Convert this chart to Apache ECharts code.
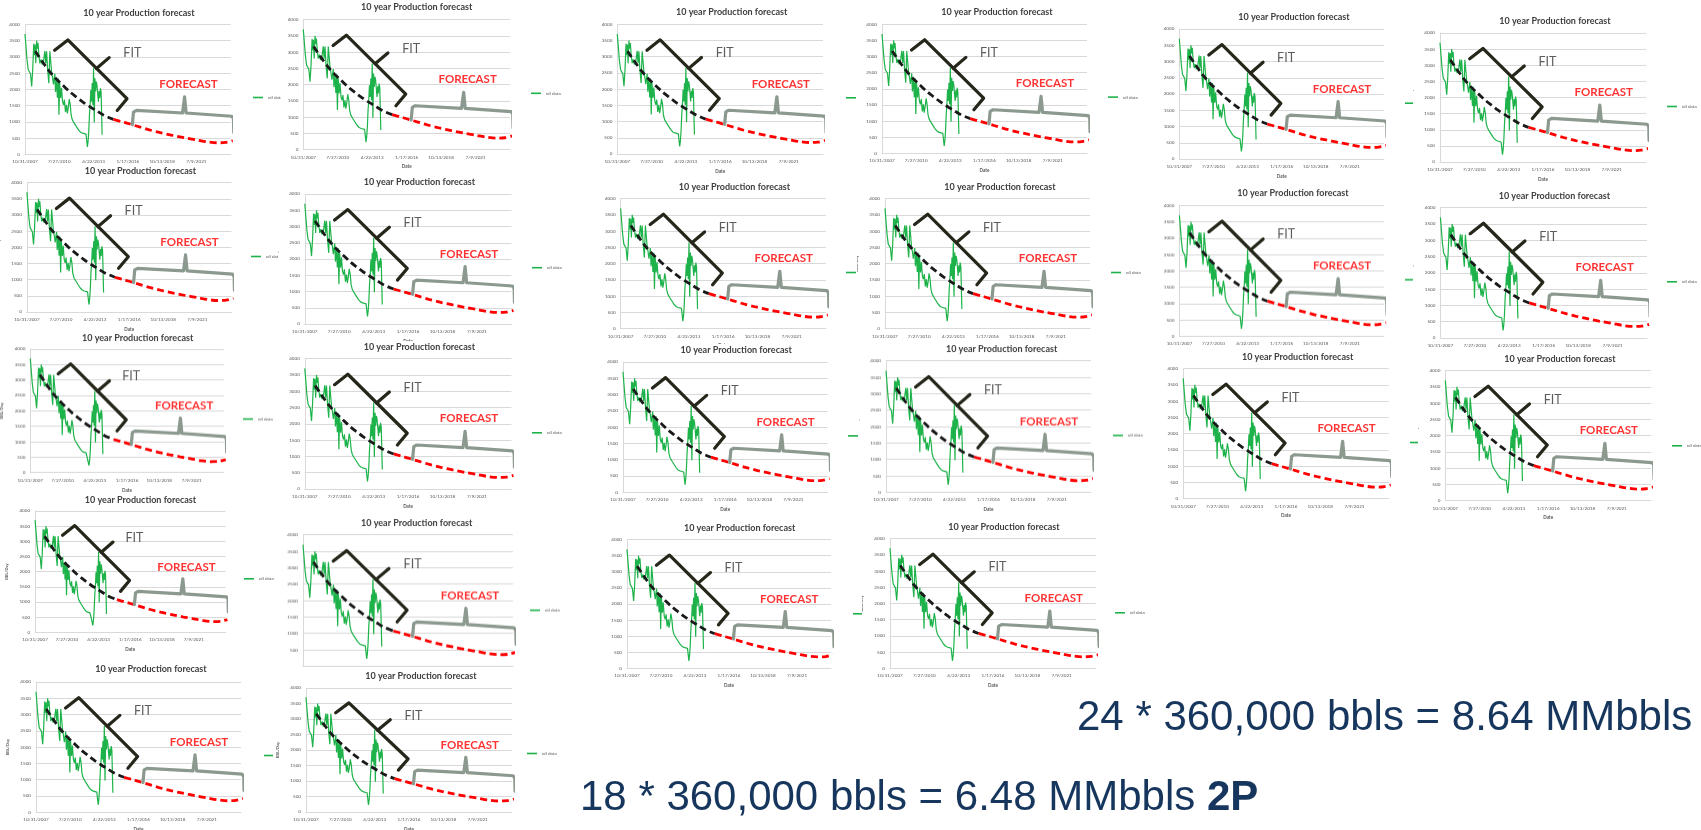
<!DOCTYPE html>
<html>
<head>
<meta charset="utf-8">
<script src="https://cdn.jsdelivr.net/npm/echarts@6/dist/echarts.min.js"></script>
<style>
html,body{margin:0;padding:0;background:#fff;}
#page{position:relative;width:1701px;height:830px;overflow:hidden;background:#fff;}
.box{position:absolute;background:#fff;overflow:hidden;}
</style>
</head>
<body>
<div id="page"></div>
<script>
// ---------------- data ----------------
const chartTitle = '10 year Production forecast';
const seriesName = 'oil data';
const xAxisName = 'Date';
const yAxisName = 'BBL/Day';
// x axis: days since 10/31/2007, one tick every 1000 days
const tickLabels = ['10/31/2007', '7/27/2010', '4/22/2013', '1/17/2016', '10/13/2018', '7/9/2021', ''];

const oilDays = [0,30,60,95,125,160,195,225,255,275,295,315,340,360,380,405,435,465,500,540,580,605,630,660,695,725,750,775,805,830,870,890,920,945,970,990,1010,1040,1065,1095,1125,1150,1180,1210,1235,1265,1290,1320,1345,1380,1440,1500,1560,1620,1680,1730,1780,1820,1840,1860,1880,1900,1920,1940,1960,1980,2000,2020,2040,2060,2080,2100,2120,2140,2160,2180,2200,2220,2250];
const oilValues = [3700,3300,2900,2600,2550,2480,2090,2600,3400,3050,3380,2800,3500,3250,3420,3050,2800,2920,2760,2850,3180,2800,3170,2600,2190,3170,3200,2550,2350,2150,2480,1920,2300,1740,2330,1220,2200,1730,2050,1620,1520,1680,1300,1520,1260,1460,1700,1520,1210,1060,950,850,750,680,650,640,620,230,400,700,1220,1520,1980,1620,2190,1520,2650,980,2340,1930,2240,2130,1880,1620,1950,1730,2030,1910,600];

const fitDays = [300,500,700,900,1100,1300,1500,1700,1900,2100,2300,2580];
const fitValues = [3170,2860,2570,2330,2130,1930,1760,1600,1460,1330,1200,1075];

const forecastDays = [2580,2800,3000,3300,3600,3950,4300,4650,5000,5300,5600,5850,6060];
const forecastValues = [1075,1010,950,855,760,665,585,510,445,385,355,365,420];

// annotation shapes (in chart units)
const fitBracketDays = [865,1250,2975,2690];
const fitBracketValues = [3200,3520,1710,1350];
const fitNotchDays = [2085,2455];
const fitNotchValues = [2640,2975];
const forecastBraceDays = [3130,3165,3250,4595,4655,4700,6030,6080,6090];
const forecastBraceValues = [910,1300,1350,1270,1765,1270,1170,1100,670];

const noteLabels = ['FIT', 'FORECAST'];
const noteDays = [3130, 4770];
const noteValues = [3110, 2160];

const totalLines = ['24 * 360,000 bbls = 8.64 MMbbls', '18 * 360,000 bbls = 6.48 MMbbls'];
const totalSuffix = ['', '2P'];

// ---------------- layout (pixel positions of each small chart) ----------------
// x0,x1: plot left/right; yT,yB: plot top/bottom; tx,ty: title centre; lx,ly: legend; L: box left
const layouts = [
  {x0:25,    x1:230.7, yT:24.3,  yB:154.3, tx:139,    ty:13,    lx:253,  ly:98,    L:0},
  {x0:303.3, x1:510,   yT:19.3,  yB:149.3, tx:416.7,  ty:6.7,   lx:531,  ly:93.5,  L:281},
  {x0:617.3, x1:823,   yT:24,    yB:153.7, tx:731.7,  ty:11.7,  lx:846,  ly:98,    L:591},
  {x0:882,   x1:1087,  yT:24,    yB:153,   tx:997,    ty:11.7,  lx:1108, ly:97.3,  L:857},
  {x0:1179.3,x1:1384,  yT:29.3,  yB:159.3, tx:1294,   ty:17.3,  lx:1405, ly:104,   L:1153},
  {x0:1440,  x1:1646,  yT:32.7,  yB:161.7, tx:1555,   ty:20.7,  lx:1667, ly:106.7, L:1413, R:1701},

  {x0:26.9,  x1:231.4, yT:182.3, yB:311.7, tx:140.5,  ty:170.7, lx:251,  ly:256.7, L:0},
  {x0:304.8, x1:511.4, yT:194.3, yB:324.3, tx:419.4,  ty:182.3, lx:532,  ly:268.5, L:278},
  {x0:620.6, x1:825.8, yT:198.3, yB:328.3, tx:734.5,  ty:186.7, lx:846,  ly:272.7, L:594},
  {x0:885,   x1:1090,  yT:198.3, yB:328.3, tx:1000,   ty:186.7, lx:1111, ly:272.7, L:857},
  {x0:1179.4,x1:1384,  yT:205.7, yB:335.7, tx:1293,   ty:193.3, lx:1405, ly:280,   L:1153},
  {x0:1440.4,x1:1647,  yT:207.3, yB:337.7, tx:1554.4, ty:195.7, lx:1667, ly:282,   L:1413, R:1701},

  {x0:30.3,  x1:223.8, yT:349.3, yB:472,   tx:137.7,  ty:338.3, lx:243,  ly:419.3, L:0},
  {x0:304.8, x1:511.4, yT:358.3, yB:488.7, tx:419.4,  ty:346.7, lx:532,  ly:433,   L:279},
  {x0:623,   x1:827.5, yT:362.3, yB:492.5, tx:736.2,  ty:350.3, lx:848,  ly:436.7, L:597},
  {x0:886,   x1:1091,  yT:361,   yB:491.7, tx:1001.6, ty:349.3, lx:1113, ly:435.7, L:859},
  {x0:1183.2,x1:1388.7,yT:368.3, yB:498.3, tx:1297.6, ty:356.7, lx:1410, ly:442.7, L:1157},
  {x0:1445.3,x1:1651,  yT:370.3, yB:500.3, tx:1560,   ty:358.7, lx:1672, ly:446,   L:1418, R:1701},

  {x0:35.1,  x1:225.5, yT:511,   yB:632.3, tx:140.5,  ty:500,   lx:244,  ly:579.3, L:0},
  {x0:303,   x1:513,   yT:535,   yB:665.7, tx:416.7,  ty:523.3, lx:530,  ly:610.5, L:277},
  {x0:627,   x1:831,   yT:539.3, yB:668,   tx:739.6,  ty:527.7, lx:853,  ly:614,   L:601},
  {x0:890,   x1:1096,  yT:538.3, yB:668,   tx:1004,   ty:526.7, lx:1115, ly:613,   L:862},

  {x0:36,    x1:241,   yT:682,   yB:812.3, tx:151,    ty:669,   lx:264,  ly:756,   L:0, B:830},
  {x0:306,   x1:512,   yT:688,   yB:812,   tx:421,    ty:676,   lx:527,  ly:754,   L:273, B:830}
];

const FONT = 'Lato, "Liberation Sans", Arial, sans-serif';
const page = document.getElementById('page');

function pairs(xs, ys) { return xs.map((x, i) => [x, ys[i]]); }

// background layer with the summary text
const bgDiv = document.createElement('div');
bgDiv.className = 'box';
bgDiv.style.left = '0px'; bgDiv.style.top = '0px';
bgDiv.style.width = '1701px'; bgDiv.style.height = '830px';
bgDiv.style.zIndex = 0;
page.appendChild(bgDiv);
const bg = echarts.init(bgDiv, null, {renderer: 'canvas', width: 1701, height: 830});
const bigStyle = {fontFamily: '"Liberation Sans", Arial, sans-serif', fontSize: 42, fill: '#17365d'};
bg.setOption({
  animation: false,
  backgroundColor: '#ffffff',
  graphic: [
    {type: 'text', x: 1077, y: 718, silent: true,
     style: Object.assign({text: totalLines[0], align: 'left', verticalAlign: 'middle', textAlign: 'left', textVerticalAlign: 'middle'}, bigStyle)},
    {type: 'text', x: 580, y: 798, silent: true,
     style: Object.assign({text: totalLines[1] + ' {b|' + totalSuffix[1] + '}', align: 'left', verticalAlign: 'middle', textAlign: 'left', textVerticalAlign: 'middle',
       rich: {b: {fontWeight: 'bold', fontSize: 42, fontFamily: '"Liberation Sans", Arial, sans-serif', fill: '#17365d'}}}, bigStyle)}
  ]
});

function buildOption(c, L, T) {
  return {
    animation: false,
    backgroundColor: '#ffffff',
    title: {
      text: chartTitle, left: c.tx - L, top: c.ty - T, padding: 0,
      textAlign: 'center', textVerticalAlign: 'middle',
      textStyle: {fontFamily: FONT, fontWeight: 'bold', fontSize: 9, color: '#404040'}
    },
    legend: {
      data: [seriesName], left: c.lx - L, top: c.ly - T - 3, padding: 0,
      icon: 'rect', itemWidth: 10, itemHeight: 1.6, selectedMode: false,
      textStyle: {fontFamily: FONT, fontSize: 4.6, color: '#595959'}
    },
    grid: {left: c.x0 - L, top: c.yT - T, width: c.x1 - c.x0, height: c.yB - c.yT, containLabel: false, outerBoundsMode: 'none'},
    xAxis: {
      type: 'value', min: 0, max: 6000, interval: 1000,
      axisLine: {show: true, lineStyle: {color: '#d9d9d9', width: 1}},
      axisTick: {show: false}, splitLine: {show: false},
      axisLabel: {fontFamily: FONT, fontSize: 4.6, color: '#595959', margin: 5, hideOverlap: false,
        formatter: (v) => tickLabels[Math.round(v / 1000)] || ''},
      name: xAxisName, nameLocation: 'middle', nameGap: 13,
      nameTextStyle: {fontFamily: FONT, fontSize: 4.6, fontWeight: 'bold', color: '#595959'}
    },
    yAxis: {
      type: 'value', min: 0, max: 4000, interval: 500,
      axisLine: {show: true, lineStyle: {color: '#d9d9d9', width: 1}},
      axisTick: {show: false},
      splitLine: {show: true, lineStyle: {color: '#d9d9d9', width: 1}},
      axisLabel: {fontFamily: FONT, fontSize: 4.6, color: '#595959', margin: 5, hideOverlap: false,
        formatter: (v) => String(v)},
      name: yAxisName, nameLocation: 'middle', nameGap: 18, nameRotate: 90,
      nameTextStyle: {fontFamily: FONT, fontSize: 4, fontWeight: 'bold', color: '#595959'}
    },
    series: [
      {name: seriesName, type: 'line', data: pairs(oilDays, oilValues), symbol: 'none', silent: true,
       lineStyle: {color: '#1db34a', width: 1.2}, itemStyle: {color: '#1db34a'}, z: 2},
      {name: 'fit', type: 'line', data: pairs(fitDays, fitValues), symbol: 'none', smooth: 0.3, silent: true,
       lineStyle: {color: '#1a1a1a', width: 2.8, type: [7, 4]}, itemStyle: {color: '#1a1a1a'}, z: 3},
      {name: 'forecast', type: 'line', data: pairs(forecastDays, forecastValues), symbol: 'none', smooth: 0.3, silent: true, clip: false,
       lineStyle: {color: '#ff0000', width: 2.8, type: [7, 4]}, itemStyle: {color: '#ff0000'}, z: 3},
      {name: 'fitBracket', type: 'line', data: pairs(fitBracketDays, fitBracketValues), symbol: 'none', silent: true, clip: false,
       lineStyle: {color: '#26261a', width: 3.2, cap: 'round', join: 'round'}, z: 4},
      {name: 'fitNotch', type: 'line', data: pairs(fitNotchDays, fitNotchValues), symbol: 'none', silent: true, clip: false,
       lineStyle: {color: '#26261a', width: 3.2, cap: 'round', join: 'round'}, z: 4},
      {name: 'forecastBrace', type: 'line', data: pairs(forecastBraceDays, forecastBraceValues), symbol: 'none', silent: true, clip: false,
       lineStyle: {color: '#8c998e', width: 3.2, cap: 'round', join: 'round'}, z: 4},
      {name: 'fitLabel', type: 'scatter', data: [[noteDays[0], noteValues[0]]], symbolSize: 1, silent: true, clip: false,
       itemStyle: {color: 'transparent'},
       label: {show: true, position: 'inside', formatter: noteLabels[0], fontFamily: FONT, fontSize: 12.5, color: '#333333'}, z: 5},
      {name: 'forecastLabel', type: 'scatter', data: [[noteDays[1], noteValues[1]]], symbolSize: 1, silent: true, clip: false,
       itemStyle: {color: 'transparent'},
       label: {show: true, position: 'inside', formatter: noteLabels[1], fontFamily: FONT, fontSize: 11.5, fontWeight: 'bold', color: '#ff0000'}, z: 5}
    ]
  };
}

layouts.forEach((c, i) => {
  const L = c.L;
  const T = Math.max(0, c.ty - 6);
  const R = c.R || (c.lx + 34);
  const B = c.B || (c.yB + 21);
  const div = document.createElement('div');
  div.className = 'box';
  div.style.left = L + 'px';
  div.style.top = T + 'px';
  div.style.width = (R - L) + 'px';
  div.style.height = (B - T) + 'px';
  div.style.zIndex = i + 1;
  page.appendChild(div);
  const ch = echarts.init(div, null, {renderer: 'canvas', width: R - L, height: B - T});
  ch.setOption(buildOption(c, L, T));
});
</script>
</body>
</html>
